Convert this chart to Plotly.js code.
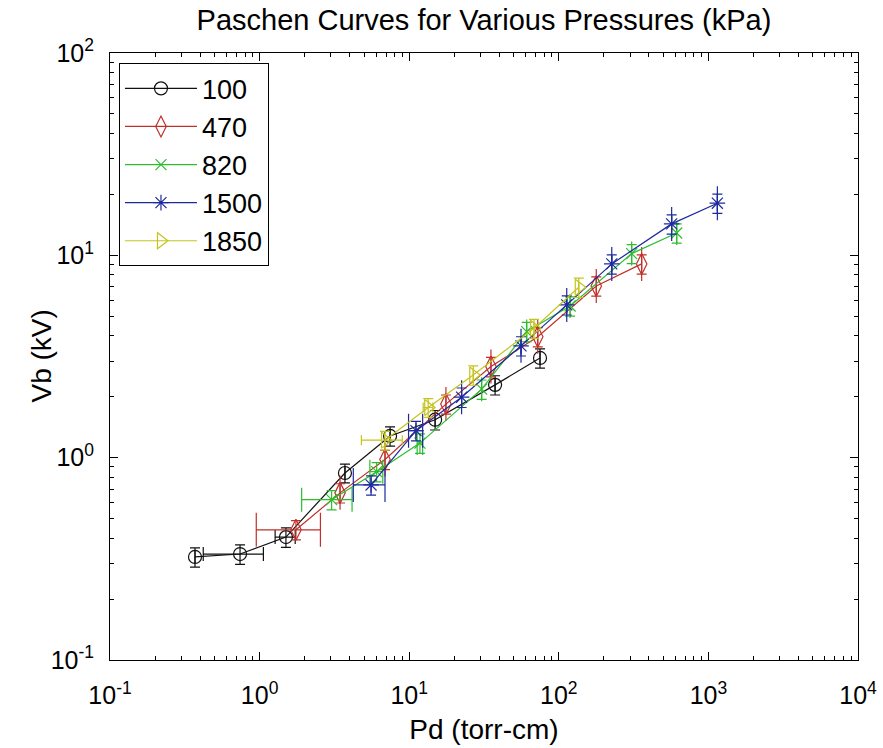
<!DOCTYPE html>
<html>
<head>
<meta charset="utf-8">
<script src="https://cdn.plot.ly/plotly-3.0.1.min.js"></script>
<style>html,body{margin:0;padding:0;background:#fff;}#chart{width:883px;height:748px;}</style>
</head>
<body>
<div id="chart"></div>
<script>
// Series names
var seriesNames = ["100", "470", "820", "1500", "1850"];

// 100 kPa
var p100_x    = [0.37, 0.74, 1.5, 3.72, 7.45, 14.9, 37.5, 74.9];
var p100_y    = [0.323, 0.334, 0.405, 0.84, 1.28, 1.54, 2.29, 3.11];
var p100_xerr = [0, 0.32, 0.23, 0, 0, 0, 0, 0];
var p100_yerr = [0.035, 0.037, 0.045, 0.09, 0.14, 0.17, 0.25, 0.34];

// 470 kPa
var p470_x    = [1.75, 3.45, 6.89, 17.6, 35.2, 72.3, 178, 358];
var p470_y    = [0.44, 0.67, 0.98, 1.84, 2.82, 3.96, 7.06, 9.07];
var p470_xerr = [0.8, 0, 0, 0, 0, 0, 0, 0];
var p470_yerr = [0.048, 0.073, 0.107, 0.2, 0.31, 0.43, 0.77, 0.99];

// 820 kPa
var p820_x    = [3.03, 6.06, 11.8, 30.5, 61, 119, 307, 614];
var p820_y    = [0.62, 0.853, 1.18, 2.18, 4.2, 5.62, 10.2, 12.9];
var p820_xerr = [1.12, 0.6, 0.5, 0, 0, 0, 0, 0];
var p820_yerr = [0.068, 0.093, 0.13, 0.24, 0.46, 0.61, 1.1, 1.4];

// 1500 kPa
var p1500_x    = [5.56, 11.1, 22.4, 55.9, 113, 226, 568, 1148];
var p1500_y    = [0.733, 1.36, 1.99, 3.57, 5.69, 9.07, 14.3, 18.1];
var p1500_xerr = [1.33, 1.2, 0, 0, 0, 0, 0, 0];
var p1500_yerr = [0.08, 0.15, 0.22, 0.39, 0.62, 0.99, 1.56, 1.97];

// 1850 kPa
var p1850_x    = [6.89, 13.4, 26.8, 68.3, 136];
var p1850_y    = [1.22, 1.77, 2.56, 4.36, 6.95];
var p1850_xerr = [2.1, 1.0, 0, 0, 0];
var p1850_yerr = [0.13, 0.19, 0.28, 0.47, 0.76];

// Tick values and labels
var xTickVals = [0.1, 1, 10, 100, 1000, 10000];
var xTickText = ["10<sup>-1</sup>", "10<sup>0</sup>", "10<sup>1</sup>", "10<sup>2</sup>", "10<sup>3</sup>", "10<sup>4</sup>"];
var yTickVals = [0.1, 1, 10, 100];
var yTickText = ["10<sup>-1</sup>", "10<sup>0</sup>", "10<sup>1</sup>", "10<sup>2</sup>"];
var minorMultipliers = [2, 3, 4, 5, 6, 7, 8, 9];

var titleText = "Paschen Curves for Various Pressures (kPa)";
var xTitle = "Pd (torr-cm)";
var yTitle = "Vb (kV)";

function minorTicks(decades) {
  var out = [];
  decades.slice(0, -1).forEach(function (d) {
    minorMultipliers.forEach(function (m) { out.push(d * m); });
  });
  return out;
}
var xMinor = minorTicks(xTickVals);
var yMinor = minorTicks(yTickVals);

var FONT = "Liberation Sans, Arial, sans-serif";

function mk(name, x, y, xe, ye, color, symbol, size, capX) {
  return {
    type: "scatter", mode: "lines+markers", name: name,
    x: x, y: y,
    line: {color: color, width: 1.2},
    marker: {symbol: symbol, size: size, color: color, line: {color: color, width: 1.2}},
    error_x: {type: "data", array: xe, symmetric: true, color: color, thickness: 1.2, width: capX, visible: true},
    error_y: {type: "data", array: ye, symmetric: true, color: color, thickness: 1.2, width: 5, visible: true}
  };
}

var data = [
  mk(seriesNames[0], p100_x, p100_y, p100_xerr, p100_yerr, "#111111", "circle-open", 13, 7),
  mk(seriesNames[1], p470_x, p470_y, p470_xerr, p470_yerr, "#c0302a", "diamond-tall-open", 15, 17),
  mk(seriesNames[2], p820_x, p820_y, p820_xerr, p820_yerr, "#2ebd2e", "x-thin-open", 11, 12),
  mk(seriesNames[3], p1500_x, p1500_y, p1500_xerr, p1500_yerr, "#1c2a9e", "asterisk-open", 13, 17),
  mk(seriesNames[4], p1850_x, p1850_y, p1850_xerr, p1850_yerr, "#c4c41e", "triangle-right-open", 14, 5),
  // invisible helper so the minor-tick overlay axes get a subplot
  {type: "scatter", mode: "markers", x: [1], y: [1], xaxis: "x2", yaxis: "y2",
   marker: {opacity: 0}, showlegend: false, hoverinfo: "skip"}
];

var majorCommon = {
  type: "log", showline: true, mirror: "ticks", linecolor: "#000", linewidth: 1,
  ticks: "inside", ticklen: 8, tickcolor: "#000", tickwidth: 1,
  showgrid: false, zeroline: false,
  tickfont: {family: FONT, size: 25, color: "#000"}
};
var minorCommon = {
  type: "log", showline: true, mirror: "ticks", linecolor: "#000", linewidth: 1,
  ticks: "inside", ticklen: 4, tickcolor: "#000", tickwidth: 1,
  showgrid: false, zeroline: false, showticklabels: false, tickmode: "array"
};

var layout = {
  width: 883, height: 748,
  paper_bgcolor: "#fff", plot_bgcolor: "#fff",
  margin: {l: 110, r: 25, t: 53, b: 88},
  font: {family: FONT, color: "#000"},
  title: {text: titleText, font: {family: FONT, size: 29, color: "#000"},
          x: 0.5, xref: "paper", y: 0.974, yref: "container", yanchor: "middle"},
  xaxis: Object.assign({}, majorCommon, {
    range: [-1, 4], tickvals: xTickVals, ticktext: xTickText, ticklabelstandoff: 13,
    title: {text: xTitle, font: {family: FONT, size: 28, color: "#000"}, standoff: 11}
  }),
  yaxis: Object.assign({}, majorCommon, {
    range: [-1, 2], tickvals: yTickVals, ticktext: yTickText, ticklabelstandoff: 10
  }),
  xaxis2: Object.assign({}, minorCommon, {range: [-1, 4], tickvals: xMinor, overlaying: "x", anchor: "y2", side: "bottom"}),
  yaxis2: Object.assign({}, minorCommon, {range: [-1, 2], tickvals: yMinor, overlaying: "y", anchor: "x2", side: "left"}),
  annotations: [{
    text: yTitle, textangle: -90, showarrow: false,
    xref: "paper", yref: "paper", x: 0, y: 0.5, xanchor: "center", yanchor: "middle",
    xshift: -69, font: {family: FONT, size: 28, color: "#000"}
  }],
  showlegend: true,
  legend: {
    x: 0.012, y: 0.983, xanchor: "left", yanchor: "top",
    bgcolor: "#fff", bordercolor: "#000", borderwidth: 1,
    font: {family: FONT, size: 27, color: "#000"},
    traceorder: "normal", itemwidth: 72
  }
};

Plotly.newPlot("chart", data, layout, {displayModeBar: false, staticPlot: true});
</script>
</body>
</html>
